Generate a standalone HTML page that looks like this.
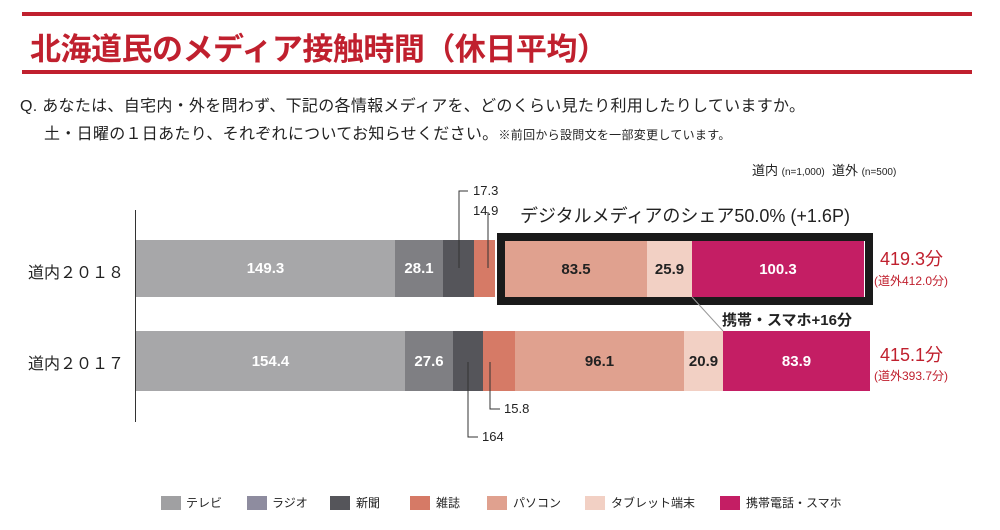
<!DOCTYPE html>
<html><head><meta charset="utf-8"><style>
body{margin:0;width:1000px;height:530px;background:#fff;position:relative;overflow:hidden;font-family:"Liberation Sans","Noto Sans CJK JP",sans-serif;color:#222}
.a{position:absolute;white-space:nowrap}
.s{position:absolute}
.v{position:absolute;display:flex;align-items:center;justify-content:center;font-size:15px;font-weight:bold}
</style></head><body>
<div class="s" style="left:22px;top:12px;width:950px;height:4px;background:#c0202e"></div>
<div class="s" style="left:22px;top:70px;width:950px;height:4px;background:#c0202e"></div>
<div class="a" style="left:30px;top:24px;font-size:31px;font-weight:bold;color:#c0202e;letter-spacing:-0.5px">北海道民のメディア接触時間（休日平均）</div>
<div class="a" style="left:20px;top:92px;font-size:16px;letter-spacing:0.3px">Q. あなたは、自宅内・外を問わず、下記の各情報メディアを、どのくらい見たり利用したりしていますか。</div>
<div class="a" style="left:44px;top:120px;font-size:16px;letter-spacing:0.3px">土・日曜の１日あたり、それぞれについてお知らせください。<span style="font-size:12px">※前回から設問文を一部変更しています。</span></div>
<div class="a" style="left:752px;top:160px;font-size:13px">道内 <span style="font-size:10px">(n=1,000)</span>&nbsp; 道外 <span style="font-size:10px">(n=500)</span></div>

<div class="s" style="left:135px;top:210px;width:1px;height:212px;background:#333"></div>
<div class="a" style="left:28px;top:259px;font-size:16px">道内２０１８</div>
<div class="a" style="left:28px;top:350px;font-size:16px">道内２０１７</div>

<div class="a" style="left:520px;top:202px;font-size:18px">デジタルメディアのシェア50.0% (+1.6P)</div>
<div class="s" style="left:497px;top:233px;width:360px;height:56px;border:8px solid #1a1a1a"></div>

<div class="v" style="left:136px;top:240px;width:259px;height:57px;background:#a7a7a9;color:#fff">149.3</div>
<div class="v" style="left:395px;top:240px;width:48px;height:57px;background:#7f7f83;color:#fff">28.1</div>
<div class="v" style="left:443px;top:240px;width:31px;height:57px;background:#55555a"></div>
<div class="v" style="left:474px;top:240px;width:21px;height:57px;background:#d67a66"></div>
<div class="v" style="left:505px;top:241px;width:142px;height:56px;background:#e0a18f">83.5</div>
<div class="v" style="left:647px;top:241px;width:45px;height:56px;background:#f2d0c4">25.9</div>
<div class="v" style="left:692px;top:241px;width:172px;height:56px;background:#c41e64;color:#fff">100.3</div>

<div class="v" style="left:136px;top:331px;width:269px;height:60px;background:#a7a7a9;color:#fff">154.4</div>
<div class="v" style="left:405px;top:331px;width:48px;height:60px;background:#7f7f83;color:#fff">27.6</div>
<div class="v" style="left:453px;top:331px;width:30px;height:60px;background:#55555a"></div>
<div class="v" style="left:483px;top:331px;width:32px;height:60px;background:#d67a66"></div>
<div class="v" style="left:515px;top:331px;width:169px;height:60px;background:#e0a18f">96.1</div>
<div class="v" style="left:684px;top:331px;width:39px;height:60px;background:#f2d0c4">20.9</div>
<div class="v" style="left:723px;top:331px;width:147px;height:60px;background:#c41e64;color:#fff">83.9</div>

<svg class="s" style="left:0;top:0" width="1000" height="530">
<g stroke="#333" stroke-width="1" fill="none">
<polyline points="459,268 459,191 468,191"/>
<polyline points="488,268 488,212"/>
<polyline points="468,362 468,437 478,437"/>
<polyline points="490,362 490,409 500,409"/>
<line x1="692" y1="297" x2="723" y2="331" stroke="#999"/>
</g></svg>
<div class="a" style="left:473px;top:183px;font-size:13px">17.3</div>
<div class="a" style="left:473px;top:203px;font-size:13px">14.9</div>
<div class="a" style="left:504px;top:401px;font-size:13px">15.8</div>
<div class="a" style="left:482px;top:429px;font-size:13px">164</div>
<div class="a" style="left:722px;top:309px;font-size:15px;font-weight:bold">携帯・スマホ+16分</div>

<div class="a" style="left:880px;top:245px;font-size:18px;color:#c0202e">419.3分</div>
<div class="a" style="left:874px;top:272px;font-size:12px;color:#c0202e">(道外412.0分)</div>
<div class="a" style="left:880px;top:341px;font-size:18px;color:#c0202e">415.1分</div>
<div class="a" style="left:874px;top:367px;font-size:12px;color:#c0202e">(道外393.7分)</div>

<div class="s" style="left:161px;top:496px;width:20px;height:14px;background:#a0a0a2"></div><div class="a" style="left:186px;top:494px;font-size:12px">テレビ</div>
<div class="s" style="left:247px;top:496px;width:20px;height:14px;background:#8e8c9f"></div><div class="a" style="left:272px;top:494px;font-size:12px">ラジオ</div>
<div class="s" style="left:330px;top:496px;width:20px;height:14px;background:#55555a"></div><div class="a" style="left:356px;top:494px;font-size:12px">新聞</div>
<div class="s" style="left:410px;top:496px;width:20px;height:14px;background:#d67a66"></div><div class="a" style="left:436px;top:494px;font-size:12px">雑誌</div>
<div class="s" style="left:487px;top:496px;width:20px;height:14px;background:#e0a18f"></div><div class="a" style="left:513px;top:494px;font-size:12px">パソコン</div>
<div class="s" style="left:585px;top:496px;width:20px;height:14px;background:#f2d0c4"></div><div class="a" style="left:611px;top:494px;font-size:12px">タブレット端末</div>
<div class="s" style="left:720px;top:496px;width:20px;height:14px;background:#c41e64"></div><div class="a" style="left:746px;top:494px;font-size:12px">携帯電話・スマホ</div>
</body></html>
